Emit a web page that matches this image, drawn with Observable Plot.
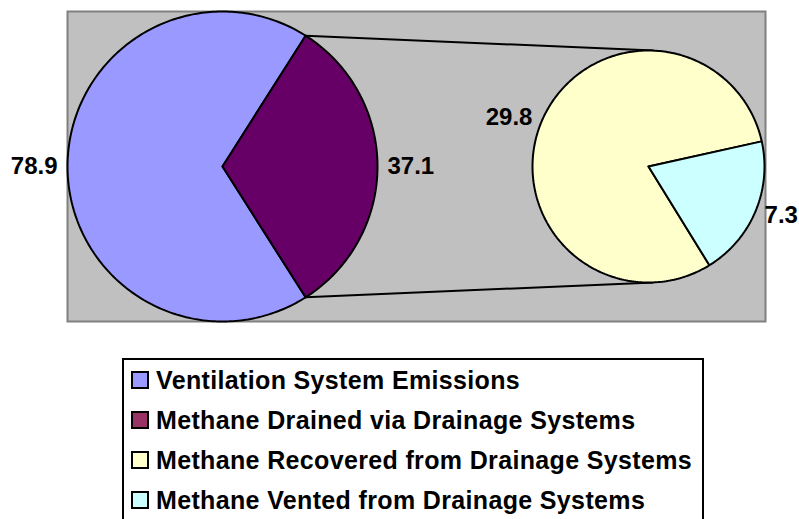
<!DOCTYPE html>
<html>
<head>
<meta charset="utf-8">
<script src="https://cdn.jsdelivr.net/npm/d3@7"></script>
<script src="https://cdn.jsdelivr.net/npm/@observablehq/plot@0.6"></script>
<style>
  html, body { margin: 0; padding: 0; background: #fff; width: 799px; height: 519px; overflow: hidden; }
  #chart { position: absolute; left: 0; top: 0; }
  #legend {
    position: absolute; left: 122px; top: 358px; width: 582px; height: 180px;
    box-sizing: border-box; border: 2px solid #000; background: #fff;
    font-family: "Liberation Sans", Arial, sans-serif; font-weight: bold;
    font-size: 25px; letter-spacing: 0.35px; color: #000;
  }
  .row { height: 40px; display: flex; align-items: center; }
  .sw { width: 18px; height: 18px; box-sizing: border-box; border: 2px solid #000; margin-left: 7px; margin-right: 7px; flex: none; }
</style>
</head>
<body>
<div id="chart"></div>
<div id="legend"></div>
<script>
// ---- data ----
const categories = [
  "Ventilation System Emissions",
  "Methane Drained via Drainage Systems",
  "Methane Recovered from Drainage Systems",
  "Methane Vented from Drainage Systems"
];
const values = [78.9, 37.1, 29.8, 7.3];
const valueLabels = ["78.9", "37.1", "29.8", "7.3"];
const sliceColors = ["#9999FF", "#660066", "#FFFFCC", "#CCFFFF"];
const legendColors = ["#9999FF", "#993366", "#FFFFCC", "#CCFFFF"];

// ---- layout (pixel units of the scales) ----
const W = 799, H = 340;
const primary = {cx: 222, cy: 166, r: 155};
const secondary = {cx: 648, cy: 166, r: 116};
const secondaryStart = 77.5; // degrees clockwise from 12 o'clock

function pt(pie, a, r) {
  const rad = a * Math.PI / 180;
  return {x: pie.cx + r * Math.sin(rad), y: pie.cy - r * Math.cos(rad)};
}

// primary pie: ventilation + drained (drained centred at 3 o'clock)
const totalP = values[0] + values[1];
const sweepDrained = values[1] / totalP * 360;
const drainedStart = 90 - sweepDrained / 2;
const totalS = values[2] + values[3];
const sweepVented = values[3] / totalS * 360;

const slices = [
  {i: 0, pie: primary, start: drainedStart + sweepDrained, sweep: 360 - sweepDrained},
  {i: 1, pie: primary, start: drainedStart, sweep: sweepDrained},
  {i: 2, pie: secondary, start: secondaryStart + sweepVented, sweep: 360 - sweepVented},
  {i: 3, pie: secondary, start: secondaryStart, sweep: sweepVented}
];

const pts = [];
for (const s of slices) {
  const key = categories[s.i], fill = sliceColors[s.i];
  pts.push({x: s.pie.cx, y: s.pie.cy, key, fill});
  const n = Math.max(2, Math.ceil(s.sweep));
  for (let k = 0; k <= n; k++) {
    const p = pt(s.pie, s.start + s.sweep * k / n, s.pie.r);
    pts.push({x: p.x, y: p.y, key, fill});
  }
  pts.push({x: s.pie.cx, y: s.pie.cy, key, fill});
}

// labels
const labelData = slices.map(s => {
  const mid = s.start + s.sweep / 2;
  const p = pt(s.pie, mid, s.pie.r + 10);
  const sn = Math.sin(mid * Math.PI / 180);
  return {x: p.x, y: p.y, text: valueLabels[s.i], side: sn > 0.1 ? "start" : sn < -0.1 ? "end" : "middle"};
});

// connector lines
const links = [
  {a: pt(primary, drainedStart, primary.r), b: pt(secondary, 2.5, secondary.r)},
  {a: pt(primary, drainedStart + sweepDrained, primary.r), b: pt(secondary, 177.5, secondary.r)}
].map(d => ({x1: d.a.x, y1: d.a.y, x2: d.b.x, y2: d.b.y}));

const mL = 67, mT = 11, mR = W - 765, mB = H - 321;
const textOpts = {fontFamily: "Liberation Sans, Arial, sans-serif", fontWeight: "bold", fontSize: 24, fill: "#000"};

const chart = Plot.plot({
  width: W, height: H,
  marginLeft: mL, marginTop: mT, marginRight: mR, marginBottom: mB,
  x: {domain: [mL, W - mR], range: [mL, W - mR], axis: null},
  y: {domain: [mT, H - mB], range: [mT, H - mB], axis: null},
  color: {type: "identity"},
  style: {background: "#fff"},
  marks: [
    Plot.frame({fill: "#C0C0C0", stroke: "#808080", strokeWidth: 2}),
    Plot.link(links, {x1: "x1", y1: "y1", x2: "x2", y2: "y2", stroke: "#000", strokeWidth: 2}),
    Plot.line(pts, {x: "x", y: "y", z: "key", fill: "fill", stroke: "#000", strokeWidth: 2, strokeLinejoin: "miter", curve: "linear"}),
    Plot.text(labelData.filter(d => d.side === "start"), {x: "x", y: "y", text: "text", textAnchor: "start", ...textOpts}),
    Plot.text(labelData.filter(d => d.side === "end"), {x: "x", y: "y", text: "text", textAnchor: "end", ...textOpts}),
    Plot.text(labelData.filter(d => d.side === "middle"), {x: "x", y: "y", text: "text", textAnchor: "middle", ...textOpts})
  ]
});
document.getElementById("chart").appendChild(chart);

// legend
const lg = document.getElementById("legend");
categories.forEach((c, i) => {
  const row = document.createElement("div");
  row.className = "row";
  const sw = document.createElement("span");
  sw.className = "sw";
  sw.style.background = legendColors[i];
  const t = document.createElement("span");
  t.textContent = c;
  row.appendChild(sw);
  row.appendChild(t);
  lg.appendChild(row);
});
</script>
</body>
</html>
